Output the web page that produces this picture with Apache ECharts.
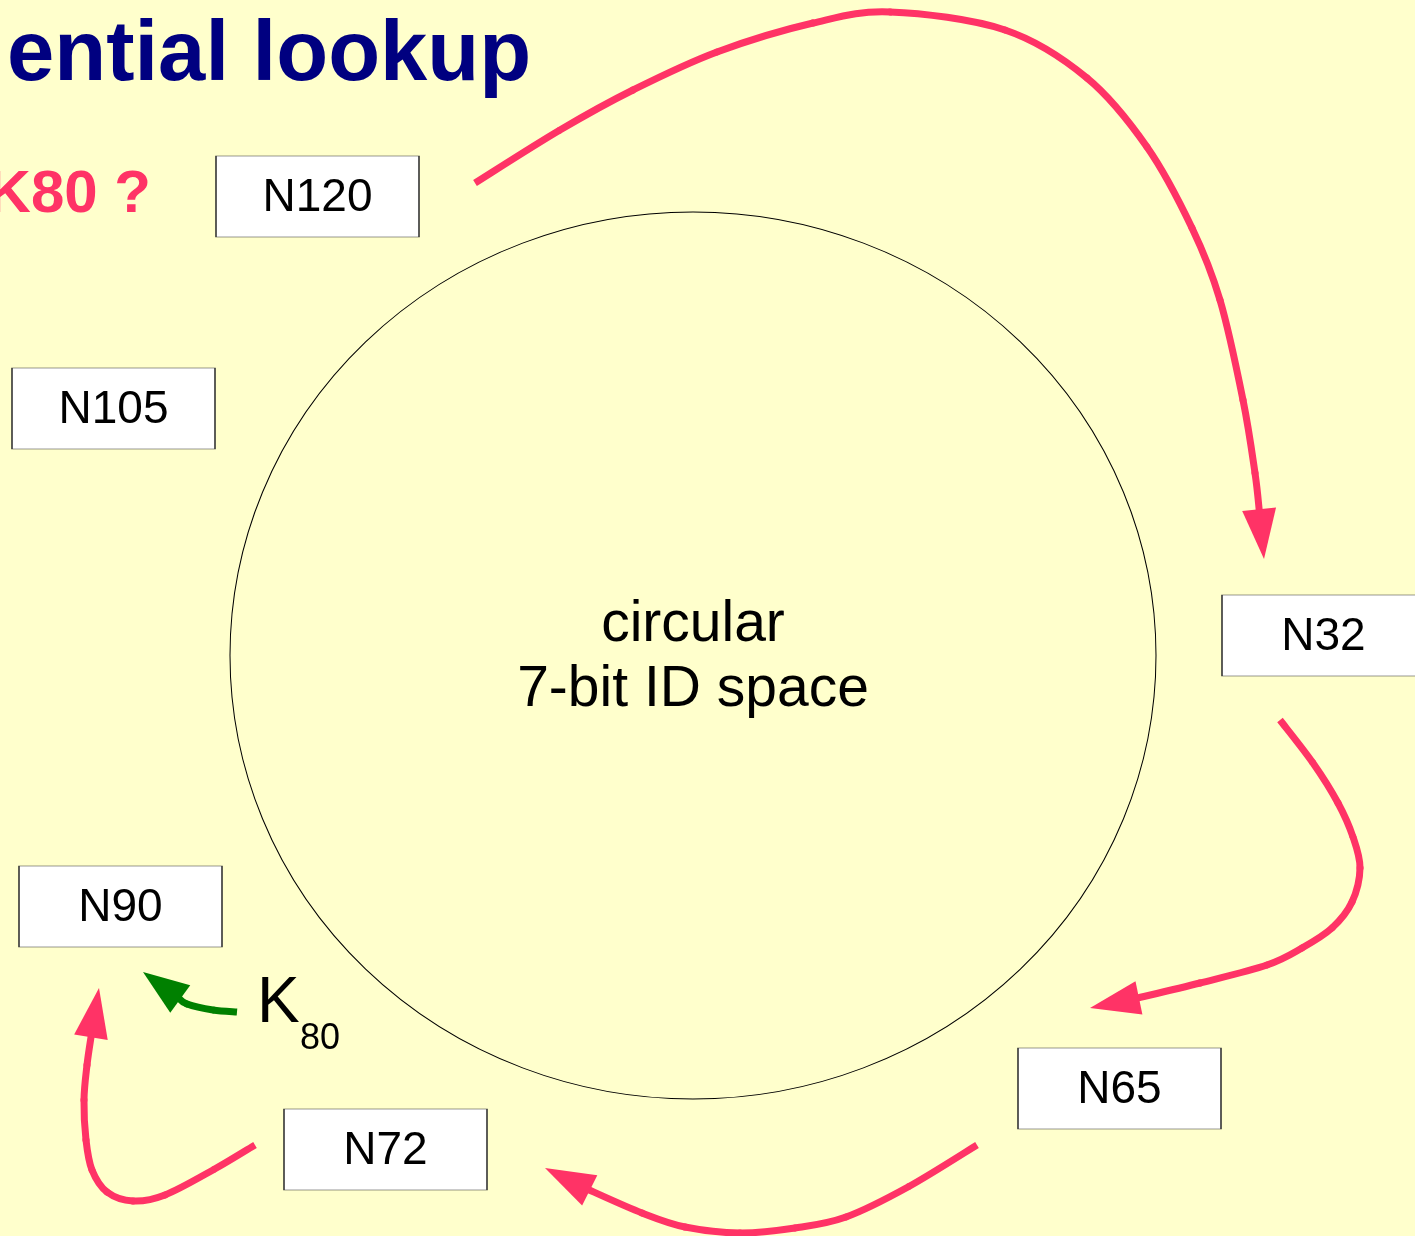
<!DOCTYPE html>
<html><head><meta charset="utf-8">
<script src="https://cdn.jsdelivr.net/npm/echarts@6/dist/echarts.min.js"></script>
<style>html,body{margin:0;padding:0;background:#ffffcc}#c{width:1415px;height:1236px}</style>
</head><body><div id="c"></div>
<script>
// ---- data ----
const nodeNames = ['N120', 'N105', 'N32', 'N65', 'N72', 'N90'];
const nodeX = [317.5, 113.5, 1323.5, 1119.5, 385.5, 120.5];
const nodeY = [196.5, 408.5, 635.5, 1088.5, 1149.5, 906.5];
const ringCenter = [693, 655.5];
const ringLabel = ['circular', '7-bit ID space'];
const titleText = 'ential lookup';
const queryText = 'K80 ?';
const keyLabel = 'K';
const keySub = '80';
// lookup hops (path points, last point = arrow tip)
const hopN120toN32 = [[475,183],[560,130],[633,90],[717,52],[813,23],[890,12],[1005,30],[1087,78],[1147,147],[1192,228],[1220,300],[1243,400],[1255,473],[1259,508],[1264,559]];
const hopN32toN65 = [[1280,720],[1313,763],[1338,803],[1353,837],[1360,868],[1352,902],[1332,928],[1302,948],[1267,965],[1200,983],[1138,998],[1090,1008]];
const hopN65toN72 = [[977,1145],[908,1187],[846,1217],[795,1228],[740,1233],[685,1227],[642,1213],[589,1190],[545,1168]];
const hopN72toN90 = [[255,1145],[213,1170],[165,1195],[133,1201],[107,1192],[92,1170],[86,1140],[84,1100],[87,1065],[91,1037],[99,988]];
const keyToN90 = [[237,1012],[213,1010],[187,1004],[183,1001],[143,972]];

// ---- chart ----
const pink = '#ff3366', green = '#008000';
const chart = echarts.init(document.getElementById('c'));

function arrowSeries(pts, color, lw, headLen, headW) {
  return {
    type: 'custom', coordinateSystem: 'cartesian2d', clip: false, silent: true,
    data: pts, encode: { x: 0, y: 1 }, z: 2,
    renderItem: function (params, api) {
      if (params.dataIndex !== pts.length - 1) return null;
      const P = pts.map(p => api.coord(p));
      const tip = P[P.length - 1];
      const base = P[P.length - 2];
      let dx = tip[0] - base[0], dy = tip[1] - base[1];
      const L = Math.hypot(dx, dy); dx /= L; dy /= L;
      const b = [tip[0] - dx * headLen, tip[1] - dy * headLen];
      const nx = -dy, ny = dx;
      const S = P.slice(0, P.length - 1);
      S[S.length - 1] = [b[0] + dx * 3, b[1] + dy * 3];
      const children = [];
      const n = S.length;
      for (let i = 0; i < n - 1; i++) {
        const p0 = S[Math.max(i - 1, 0)], p1 = S[i], p2 = S[i + 1], p3 = S[Math.min(i + 2, n - 1)];
        children.push({
          type: 'bezierCurve',
          shape: {
            x1: p1[0], y1: p1[1], x2: p2[0], y2: p2[1],
            cpx1: p1[0] + (p2[0] - p0[0]) / 6, cpy1: p1[1] + (p2[1] - p0[1]) / 6,
            cpx2: p2[0] - (p3[0] - p1[0]) / 6, cpy2: p2[1] - (p3[1] - p1[1]) / 6
          },
          style: { stroke: color, lineWidth: lw, fill: null, lineCap: i === 0 ? 'butt' : 'round' }
        });
      }
      children.push({ type: 'polygon', shape: { points: [tip, [b[0] + nx * headW / 2, b[1] + ny * headW / 2], [b[0] - nx * headW / 2, b[1] - ny * headW / 2]] },
        style: { fill: color } });
      return { type: 'group', children: children };
    }
  };
}

const FONT = '"Liberation Sans", Arial, sans-serif';

chart.setOption({
  backgroundColor: '#ffffcc',
  animation: false,
  grid: { left: 0, right: 0, top: 0, bottom: 0 },
  xAxis: { type: 'value', min: 0, max: 1415, show: false },
  yAxis: { type: 'value', min: 0, max: 1236, inverse: true, show: false },
  graphic: [
    { type: 'text', x: 7, y: 57, style: { text: titleText, font: 'bold 85px ' + FONT, fill: '#000080', verticalAlign: 'middle', align: 'left' } },
    { type: 'text', x: 151, y: 195, style: { text: queryText, font: 'bold 60px ' + FONT, fill: pink, verticalAlign: 'middle', align: 'right' } },
    { type: 'text', x: 693, y: 625, style: { text: ringLabel[0], font: '57px ' + FONT, fill: '#000', verticalAlign: 'middle', align: 'center' } },
    { type: 'text', x: 693, y: 690, style: { text: ringLabel[1], font: '57px ' + FONT, fill: '#000', verticalAlign: 'middle', align: 'center' } },
    { type: 'text', x: 257, y: 1004, style: { text: keyLabel, font: '64px ' + FONT, fill: '#000', verticalAlign: 'middle', align: 'left' } },
    { type: 'text', x: 300, y: 1039, style: { text: keySub, font: '36px ' + FONT, fill: '#000', verticalAlign: 'middle', align: 'left' } }
  ],
  series: [
    { type: 'scatter', silent: true, symbol: 'circle', symbolSize: [926, 887],
      itemStyle: { color: 'rgba(0,0,0,0)', borderColor: '#000', borderWidth: 1, opacity: 1 },
      data: [ringCenter], z: 1 },
    arrowSeries(hopN120toN32, pink, 7, 50, 34),
    arrowSeries(hopN32toN65, pink, 7, 50, 34),
    arrowSeries(hopN65toN72, pink, 7, 50, 34),
    arrowSeries(hopN72toN90, pink, 7, 50, 34),
    arrowSeries(keyToN90, green, 7, 46, 34),
    { type: 'scatter', silent: true, symbol: 'rect', symbolSize: [203, 81], z: 3,
      itemStyle: { color: '#fff', borderColor: '#333', borderWidth: 1, opacity: 1 },
      label: { show: true, position: 'inside', offset: [0, 2], formatter: p => p.data[2], fontSize: 46, fontFamily: FONT, color: '#000' },
      data: nodeNames.map((n, i) => [nodeX[i], nodeY[i], n]) }
  ]
});
</script></body></html>
